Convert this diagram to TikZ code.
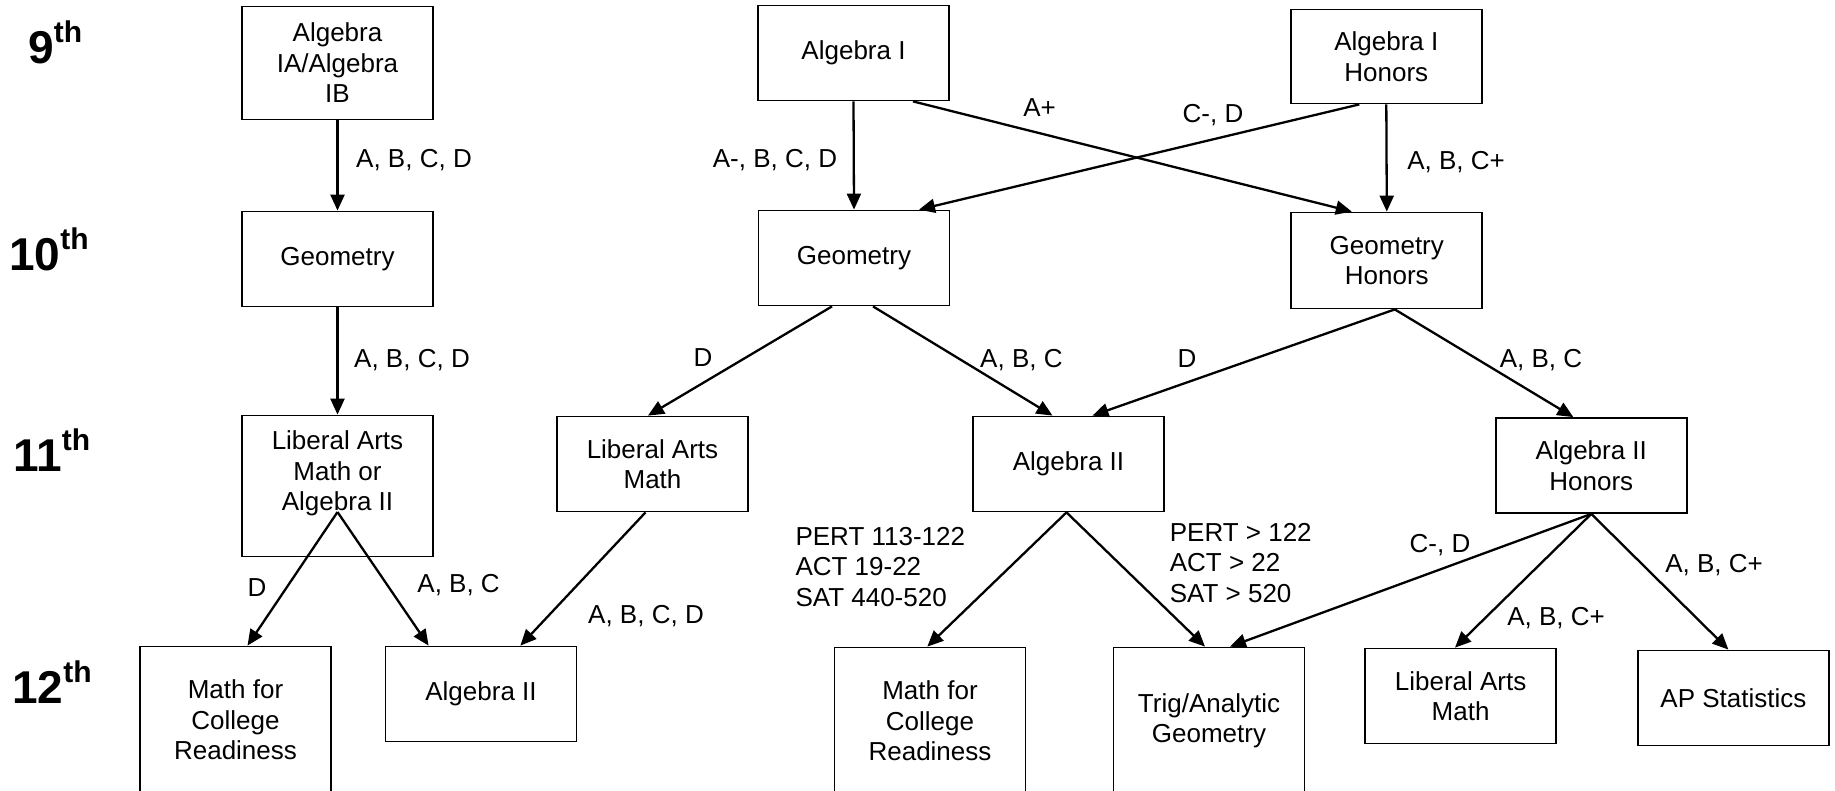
\documentclass[tikz,border=0pt]{standalone}
\usepackage{fontspec}
\setmainfont{Liberation Sans}
\usetikzlibrary{arrows.meta,calc}
\begin{document}
\begin{tikzpicture}[x=1pt,y=-1pt,
  box/.style={draw, line width=1.8pt, rectangle, minimum width=191pt, inner sep=0pt, align=center, font=\fontsize{26}{30.5}\selectfont},
  lbl/.style={inner sep=0pt, text height=18.6pt, text depth=0pt, font=\fontsize{26}{30.5}\selectfont},
  lblblock/.style={inner sep=0pt, anchor=west, align=left, font=\fontsize{26}{30.5}\selectfont},
  grade/.style={inner sep=0pt, anchor=base west, font=\bfseries},
  arr/.style={line width=2.3pt, -{Triangle[length=16pt,width=14pt]}},
]
\useasboundingbox[fill=white] (0,0) rectangle (1835,790);

% grade labels
\node[grade] (g9)  at (28,63)    {\fontsize{46}{46}\selectfont 9\raisebox{21pt}{\fontsize{30}{30}\selectfont th}};
\node[grade] (g10) at (9,270)    {\fontsize{46}{46}\selectfont 10\raisebox{21pt}{\fontsize{30}{30}\selectfont th}};
\node[grade] (g11) at (13,471.7) {\fontsize{46}{46}\selectfont 11\raisebox{21pt}{\fontsize{30}{30}\selectfont th}};
\node[grade] (g12) at (12,703)   {\fontsize{46}{46}\selectfont 12\raisebox{21pt}{\fontsize{30}{30}\selectfont th}};

% boxes
\node[box, minimum height=113pt] (aIA)  at (337.5,63)   {Algebra\\IA/Algebra\\IB};
\node[box, minimum height=95pt]  (gL)   at (337.5,259)  {Geometry};
\node[box, minimum height=141pt] (lamA) at (337.5,486)  {Liberal Arts\\Math or\\Algebra II\\\mbox{}};
\node[box, minimum height=147pt] (mcrL) at (235.5,720)  {Math for\\College\\Readiness};
\node[box, minimum height=95pt]  (a2L)  at (481,694)    {Algebra II};
\node[box, minimum height=95pt]  (lamM) at (652.5,464)  {Liberal Arts\\Math};
\node[box, minimum height=95pt]  (aI)   at (853.5,53)   {Algebra I};
\node[box, minimum height=95pt]  (gM)   at (854,258)    {Geometry};
\node[box, minimum height=94pt]  (aIH)  at (1386.3,56.5) {Algebra I\\Honors};
\node[box, minimum height=96pt]  (gH)   at (1386.8,260.5) {Geometry\\Honors};
\node[box, minimum height=95pt]  (a2M)  at (1068.5,464) {Algebra II};
\node[box, minimum height=95pt]  (a2H)  at (1591.3,465.5) {Algebra II\\Honors};
\node[box, minimum height=147pt] (mcrM) at (930,721)    {Math for\\College\\Readiness};
\node[box, minimum height=147pt] (trig) at (1209,721)   {Trig/Analytic\\Geometry};
\node[box, minimum height=95pt]  (lamR) at (1460.6,696) {Liberal Arts\\Math};
\node[box, minimum height=95pt]  (apS)  at (1733.4,698) {AP Statistics};

% connectors
\coordinate (lamAsrc) at ($(lamA.center)+(0,26)$);
\draw[arr] (aIA.south) -- (gL.north);
\draw[arr] (gL.south) -- (lamA.north);
\draw[arr] (lamAsrc) -- ($(mcrL.north)+(12,0)$);
\draw[arr] (lamAsrc) -- ($(a2L.north)+(-52.4,0)$);
\draw[arr] ($(lamM.south)+(-7,0)$) -- ($(a2L.north)+(39.4,0)$);
\draw[arr] (aI.south) -- (gM.north);
\draw[arr] ($(aI.south)+(59.5,0)$) -- ($(gH.north)+(-35,0)$);
\draw[arr] ($(aIH.south)+(-27,0)$) -- ($(gM.north)+(65,0)$);
\draw[arr] (aIH.south) -- (gH.north);
\draw[arr] ($(gM.south)+(-22,0)$) -- ($(lamM.north)+(-4.5,0)$);
\draw[arr] ($(gM.south)+(19,0)$) -- ($(a2M.north)+(-16,0)$);
\draw[arr] ($(gH.south)+(8,0)$) -- ($(a2M.north)+(24,0)$);
\draw[arr] ($(gH.south)+(8,0)$) -- ($(a2H.north)+(-18,0)$);
\draw[arr] ($(a2M.south)+(-2,0)$) -- ($(mcrM.north)+(-2.7,0)$);
\draw[arr] ($(a2M.south)+(-2,0)$) -- ($(trig.north)+(-4,0)$);
\draw[arr] (a2H.south) -- ($(trig.north)+(21,0)$);
\draw[arr] (a2H.south) -- ($(lamR.north)+(-5.6,0)$);
\draw[arr] (a2H.south) -- ($(apS.north)+(-5,0)$);

% labels
\node[lbl] (l1)  at (414,158)   {A, B, C, D};
\node[lbl] (l2)  at (412,358)   {A, B, C, D};
\node[lbl] (l3)  at (257,587)   {D};
\node[lbl] (l4)  at (458.6,583) {A, B, C};
\node[lbl] (l5)  at (646,614)   {A, B, C, D};
\node[lbl] (l6)  at (775,158)   {A-, B, C, D};
\node[lbl] (l7)  at (1039.5,107) {A+};
\node[lbl] (l8)  at (1213,113)  {C-, D};
\node[lbl] (l9)  at (1456,160)  {A, B, C+};
\node[lbl] (l10) at (703,357)   {D};
\node[lbl] (l11) at (1021.4,358) {A, B, C};
\node[lbl] (l12) at (1187,358)  {D};
\node[lbl] (l13) at (1541,358)  {A, B, C};
\node[lblblock] (l14) at (795.3,567) {PERT 113-122\\ACT 19-22\\SAT 440-520};
\node[lblblock] (l15) at (1169.6,562.7) {PERT > 122\\ACT > 22\\SAT > 520};
\node[lbl] (l16) at (1440,543)  {C-, D};
\node[lbl] (l17) at (1556,616)  {A, B, C+};
\node[lbl] (l18) at (1714,563)  {A, B, C+};
\end{tikzpicture}
\end{document}
